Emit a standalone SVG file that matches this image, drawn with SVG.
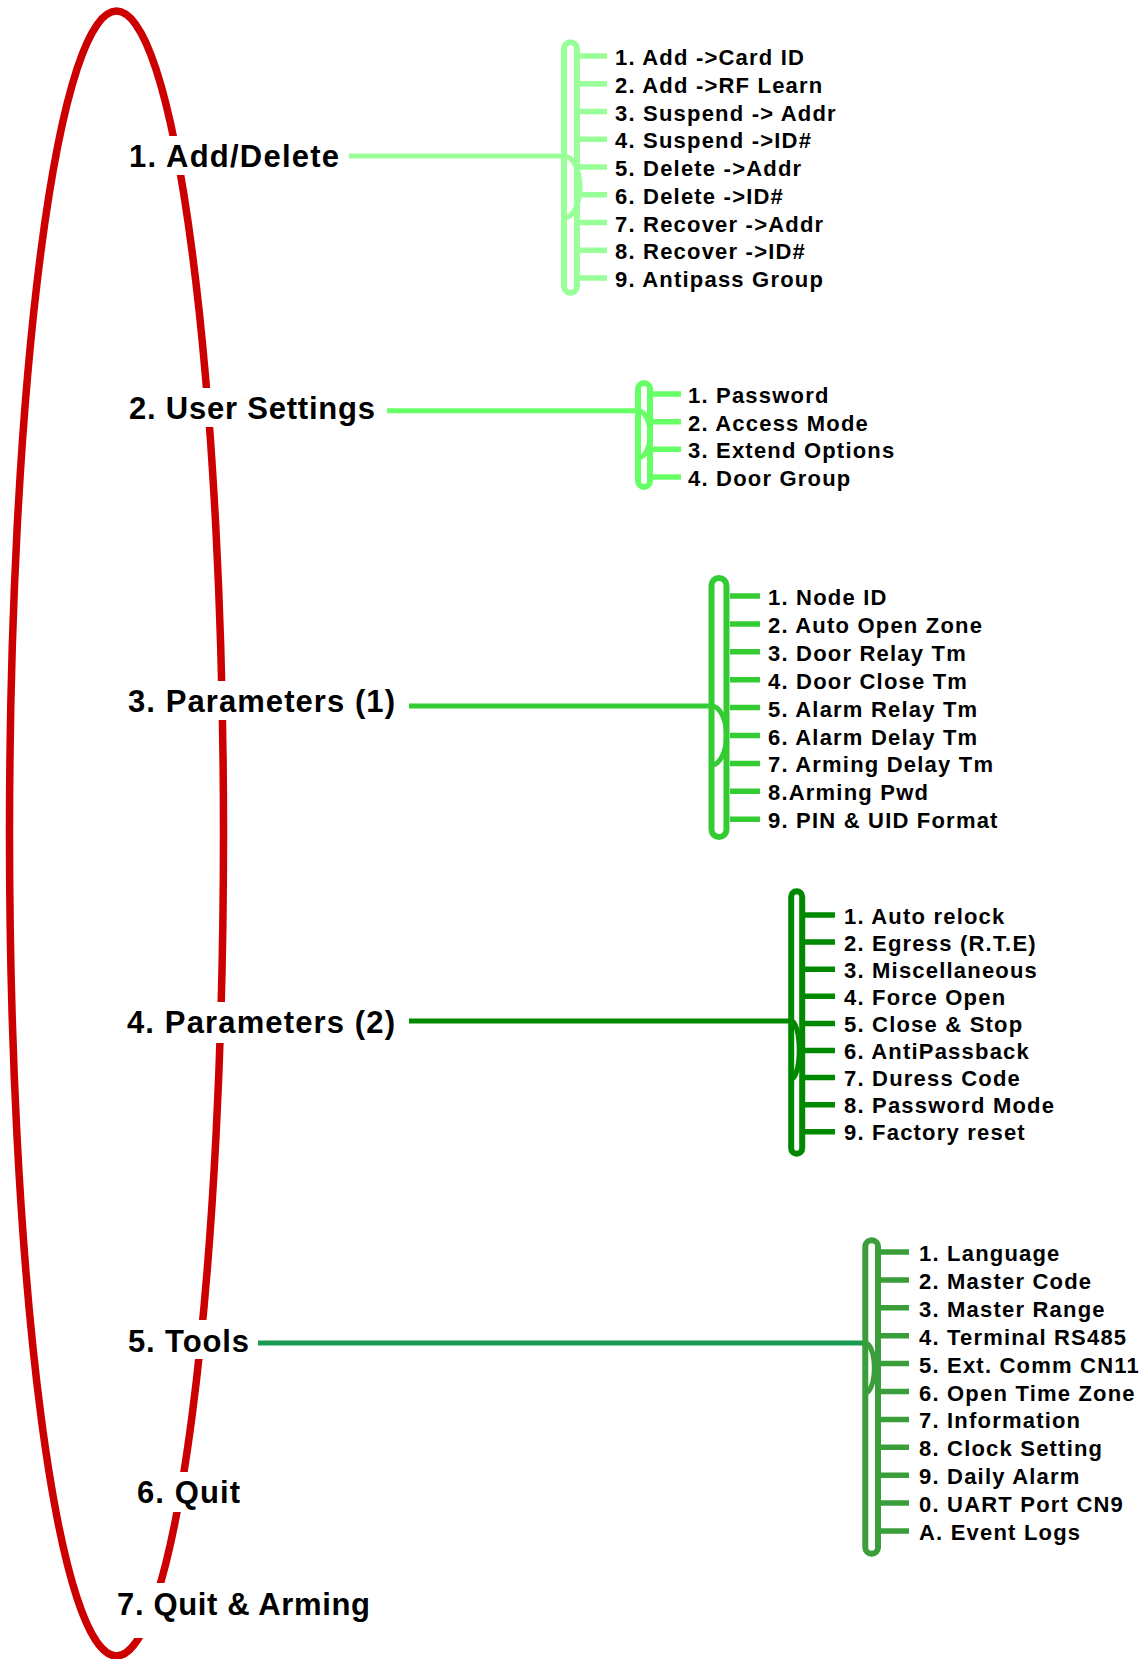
<svg xmlns="http://www.w3.org/2000/svg" width="1147" height="1659" viewBox="0 0 1147 1659">
<style>
.loop{fill:none;stroke:#cc0000;stroke-width:7.5}
.bg{fill:#ffffff}
.lbl{font-family:"Liberation Sans",Arial,sans-serif;font-weight:bold;font-size:31px;fill:#000000}
.sub{font-family:"Liberation Sans",Arial,sans-serif;font-weight:bold;font-size:22px;fill:#000000;letter-spacing:1.2px}
.cap{fill:none;stroke-width:6}
.tick{fill:none;stroke-width:5.5}
.arc{fill:none;stroke-width:5}
.link{fill:none;stroke-width:5}
.c1{stroke:#99ff99}
.c2{stroke:#66ff66}
.c3{stroke:#33cc33}
.c4{stroke:#008800}
.c5{stroke:#3a9e3a}
.c5l{stroke:#179c52}
</style>
<rect x="0" y="0" width="1147" height="1659" fill="#ffffff"/>
<ellipse id="menu-loop" class="loop" cx="116.5" cy="833.5" rx="107" ry="822.5"/>

<g id="connectors">
  <path class="link c1" d="M349,156 H564"/>
  <path class="link c2" d="M387,410.7 H638"/>
  <path class="link c3" d="M409,706 H711.5"/>
  <path class="link c4" d="M409,1021 H791.2"/>
  <path class="link c5l" d="M258,1343 H865.3"/>
</g>

<g id="main-1">
  <rect class="bg" x="125" y="136" width="217" height="39"/>
  <text class="lbl" x="129" y="167" textLength="210" lengthAdjust="spacing">1. Add/Delete</text>
</g>
<g id="main-2">
  <rect class="bg" x="125" y="388" width="253" height="39"/>
  <text class="lbl" x="129" y="419" textLength="246" lengthAdjust="spacing">2. User Settings</text>
</g>
<g id="main-3">
  <rect class="bg" x="124" y="681" width="274" height="39"/>
  <text class="lbl" x="128" y="712" textLength="267" lengthAdjust="spacing">3. Parameters (1)</text>
</g>
<g id="main-4">
  <rect class="bg" x="123" y="1002" width="275" height="41"/>
  <text class="lbl" x="127" y="1033" textLength="268" lengthAdjust="spacing">4. Parameters (2)</text>
</g>
<g id="main-5">
  <rect class="bg" x="124" y="1320" width="128" height="39"/>
  <text class="lbl" x="128" y="1352" textLength="121" lengthAdjust="spacing">5. Tools</text>
</g>
<g id="main-6">
  <rect class="bg" x="133" y="1472" width="110" height="40"/>
  <text class="lbl" x="137" y="1503" textLength="103" lengthAdjust="spacing">6. Quit</text>
</g>
<g id="main-7">
  <rect class="bg" x="113" y="1583" width="260" height="55"/>
  <text class="lbl" x="117" y="1615" textLength="253" lengthAdjust="spacing">7. Quit &amp; Arming</text>
</g>

<g id="sub-1">
  <rect class="cap c1" x="564" y="42.3" width="13" height="250.4" rx="6.5"/>
  <path class="arc c1" d="M564,156 A16,31 0 0 1 564,218"/>
  <path class="tick c1" d="M580,56 H607 M580,83.75 H607 M580,111.5 H607 M580,139.25 H607 M580,167 H607 M580,194.75 H607 M580,222.5 H607 M580,250.25 H607 M580,278 H607"/>
  <text class="sub" x="615" y="65">1. Add -&gt;Card ID</text>
  <text class="sub" x="615" y="92.75">2. Add -&gt;RF Learn</text>
  <text class="sub" x="615" y="120.5">3. Suspend -&gt; Addr</text>
  <text class="sub" x="615" y="148.25">4. Suspend -&gt;ID#</text>
  <text class="sub" x="615" y="176">5. Delete -&gt;Addr</text>
  <text class="sub" x="615" y="203.75">6. Delete -&gt;ID#</text>
  <text class="sub" x="615" y="231.5">7. Recover -&gt;Addr</text>
  <text class="sub" x="615" y="259.25">8. Recover -&gt;ID#</text>
  <text class="sub" x="615" y="287">9. Antipass Group</text>
</g>

<g id="sub-2">
  <rect class="cap c2" x="638" y="383" width="12" height="104" rx="6"/>
  <path class="arc c2" d="M638,410.7 A12,23.5 0 0 1 638,458"/>
  <path class="tick c2" d="M653,394 H681 M653,421.7 H681 M653,449.3 H681 M653,477 H681"/>
  <text class="sub" x="688" y="403">1. Password</text>
  <text class="sub" x="688" y="430.7">2. Access Mode</text>
  <text class="sub" x="688" y="458.3">3. Extend Options</text>
  <text class="sub" x="688" y="486">4. Door Group</text>
</g>

<g id="sub-3">
  <rect class="cap c3" x="711.5" y="578" width="15" height="259" rx="7.5"/>
  <path class="arc c3" d="M711.5,706 A15,29.5 0 0 1 711.5,765"/>
  <path class="tick c3" d="M730,596 H760 M730,623.9 H760 M730,651.8 H760 M730,679.7 H760 M730,707.6 H760 M730,735.5 H760 M730,763.4 H760 M730,791.3 H760 M730,819.2 H760"/>
  <text class="sub" x="768" y="605">1. Node ID</text>
  <text class="sub" x="768" y="632.9">2. Auto Open Zone</text>
  <text class="sub" x="768" y="660.8">3. Door Relay Tm</text>
  <text class="sub" x="768" y="688.7">4. Door Close Tm</text>
  <text class="sub" x="768" y="716.6">5. Alarm Relay Tm</text>
  <text class="sub" x="768" y="744.5">6. Alarm Delay Tm</text>
  <text class="sub" x="768" y="772.4">7. Arming Delay Tm</text>
  <text class="sub" x="768" y="800.3">8.Arming Pwd</text>
  <text class="sub" x="768" y="828.2">9. PIN &amp; UID Format</text>
</g>

<g id="sub-4">
  <rect class="cap c4" x="791.2" y="891.3" width="11" height="262.4" rx="5.5"/>
  <path class="arc c4" d="M791.2,1021 A8,29 0 0 1 791.2,1079"/>
  <path class="tick c4" d="M805,915 H835 M805,942.1 H835 M805,969.2 H835 M805,996.3 H835 M805,1023.4 H835 M805,1050.5 H835 M805,1077.6 H835 M805,1104.7 H835 M805,1131.8 H835"/>
  <text class="sub" x="844" y="923.5">1. Auto relock</text>
  <text class="sub" x="844" y="950.6">2. Egress (R.T.E)</text>
  <text class="sub" x="844" y="977.7">3. Miscellaneous</text>
  <text class="sub" x="844" y="1004.8">4. Force Open</text>
  <text class="sub" x="844" y="1031.9">5. Close &amp; Stop</text>
  <text class="sub" x="844" y="1059">6. AntiPassback</text>
  <text class="sub" x="844" y="1086.1">7. Duress Code</text>
  <text class="sub" x="844" y="1113.2">8. Password Mode</text>
  <text class="sub" x="844" y="1140.3">9. Factory reset</text>
</g>

<g id="sub-5">
  <rect class="cap c5" x="865.3" y="1240.3" width="12.7" height="313.4" rx="6.3"/>
  <path class="arc c5" d="M865.3,1343 A9,25 0 0 1 865.3,1393"/>
  <path class="tick c5" d="M881,1252 H909 M881,1279.9 H909 M881,1307.8 H909 M881,1335.7 H909 M881,1363.6 H909 M881,1391.5 H909 M881,1419.4 H909 M881,1447.3 H909 M881,1475.2 H909 M881,1503.1 H909 M881,1531 H909"/>
  <text class="sub" x="919" y="1261">1. Language</text>
  <text class="sub" x="919" y="1288.9">2. Master Code</text>
  <text class="sub" x="919" y="1316.8">3. Master Range</text>
  <text class="sub" x="919" y="1344.7">4. Terminal RS485</text>
  <text class="sub" x="919" y="1372.6">5. Ext. Comm CN11</text>
  <text class="sub" x="919" y="1400.5">6. Open Time Zone</text>
  <text class="sub" x="919" y="1428.4">7. Information</text>
  <text class="sub" x="919" y="1456.3">8. Clock Setting</text>
  <text class="sub" x="919" y="1484.2">9. Daily Alarm</text>
  <text class="sub" x="919" y="1512.1">0. UART Port CN9</text>
  <text class="sub" x="919" y="1540">A. Event Logs</text>
</g>
</svg>
